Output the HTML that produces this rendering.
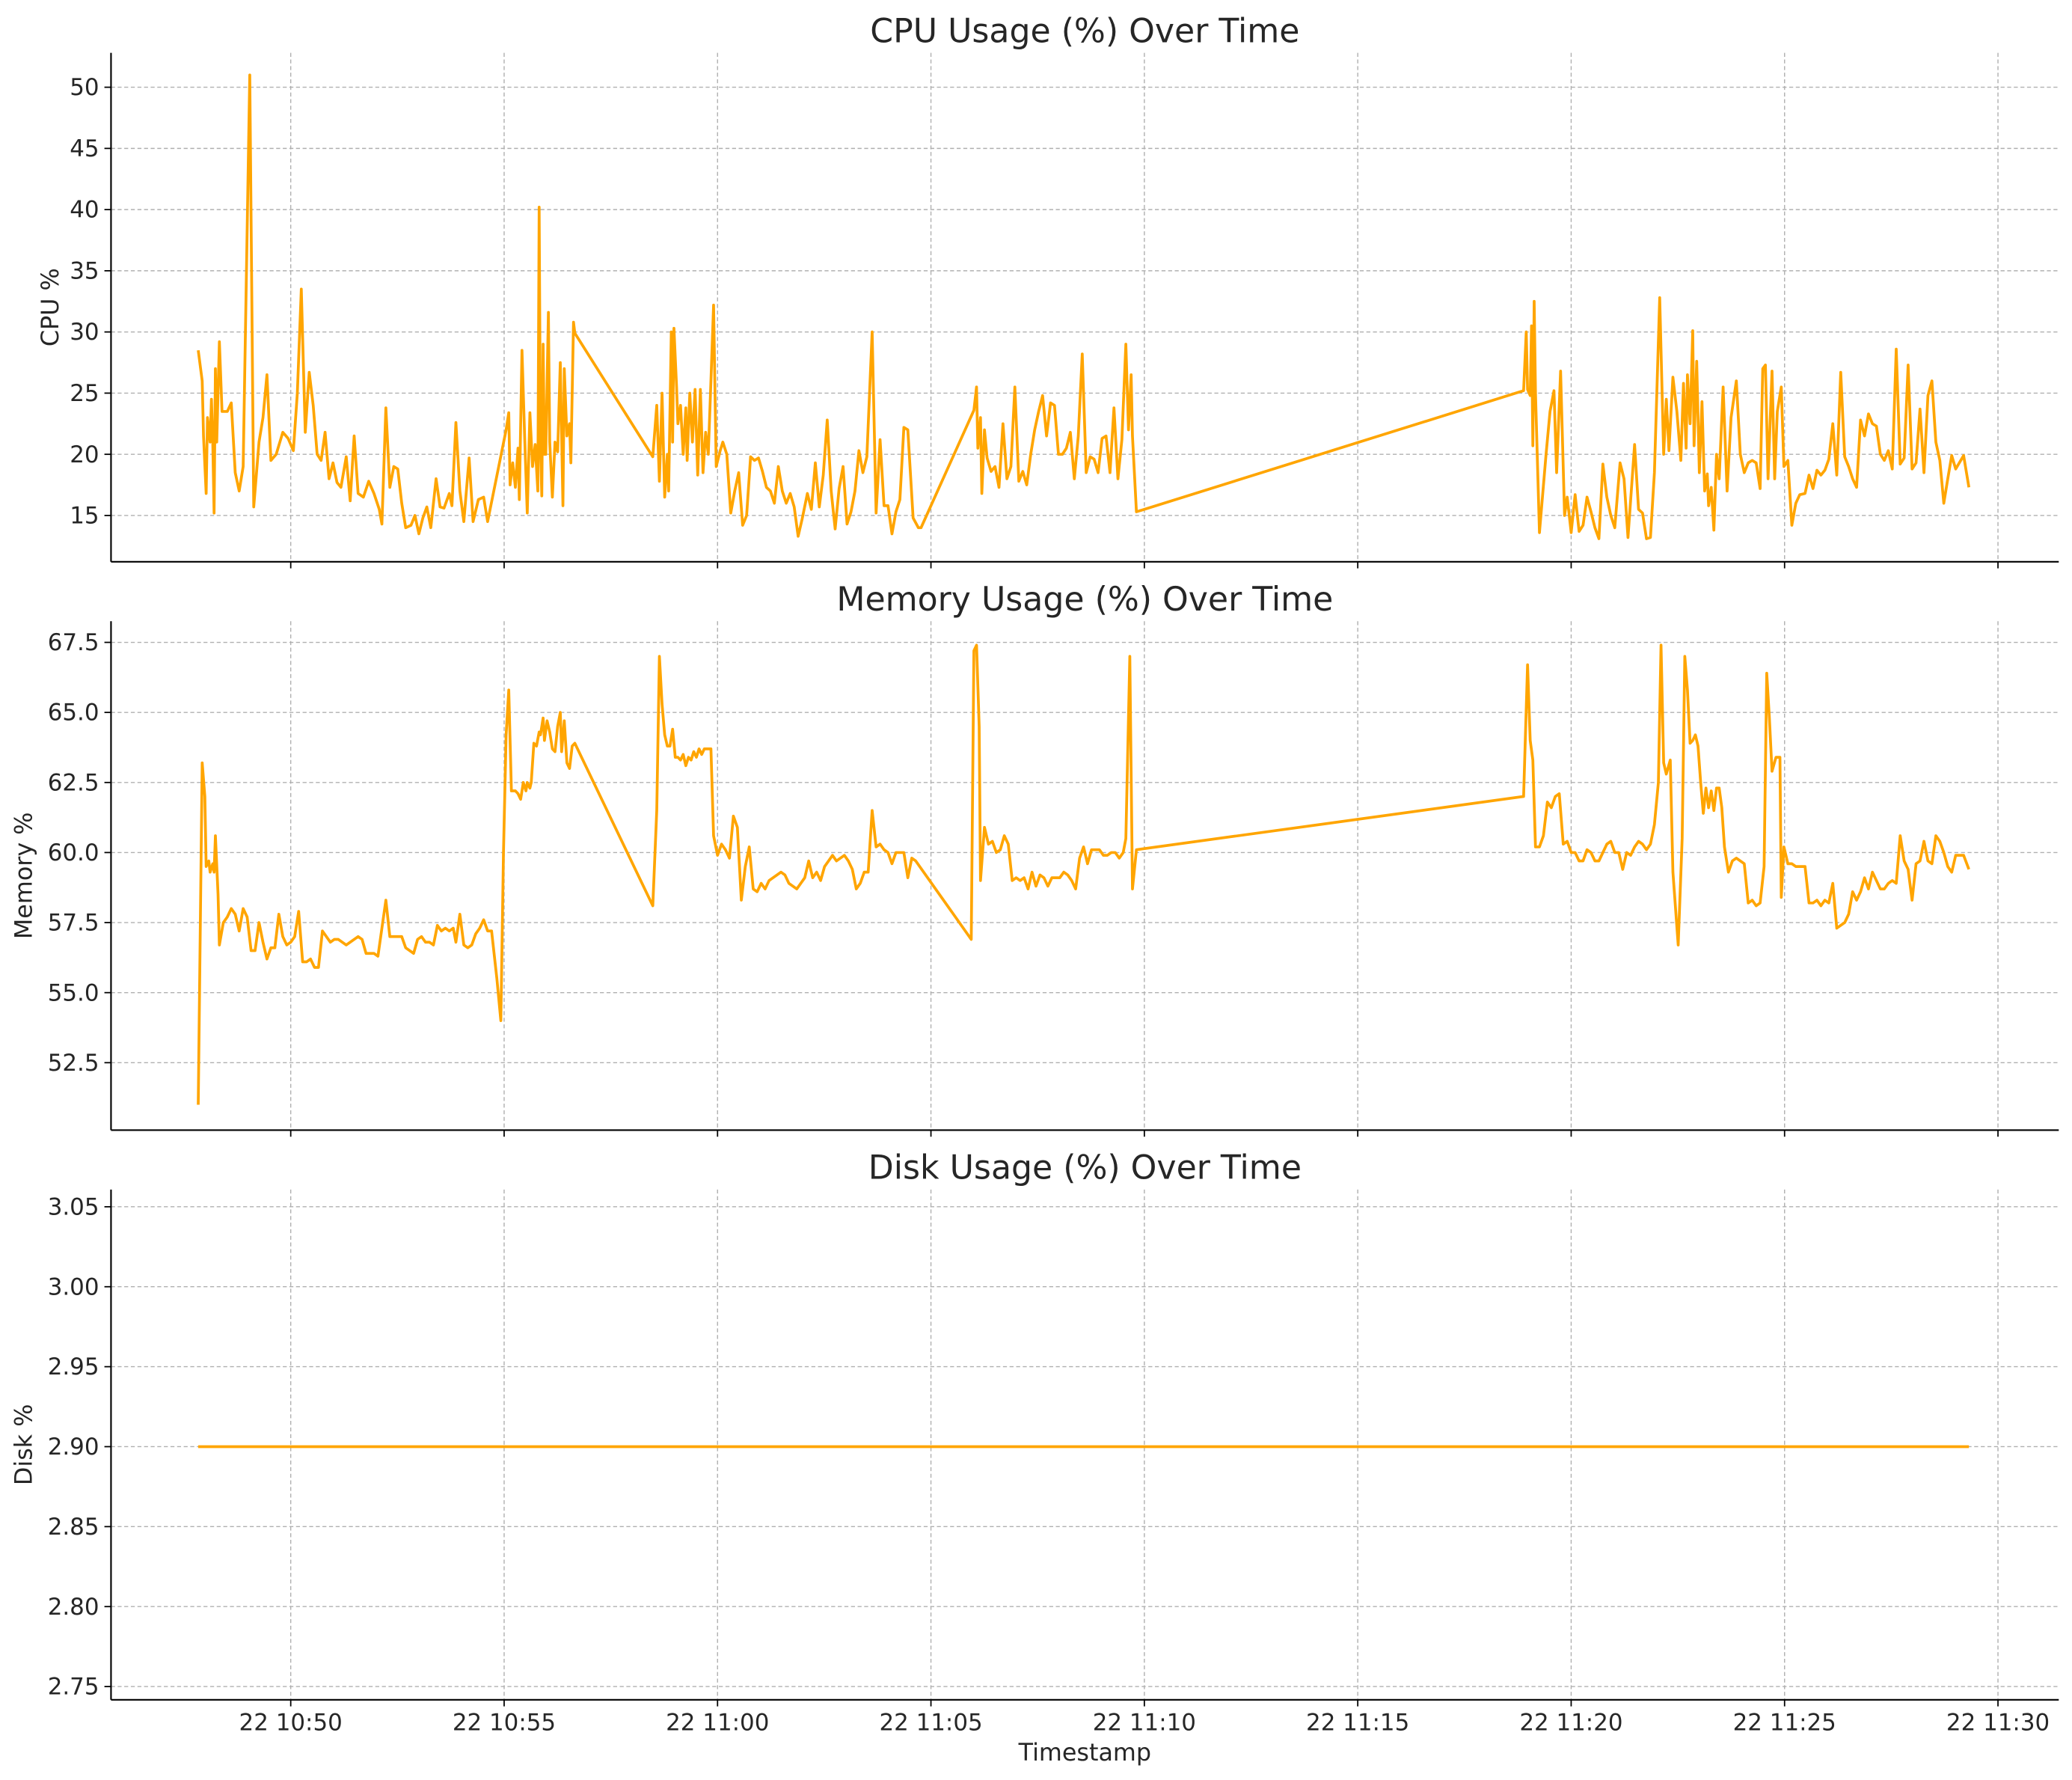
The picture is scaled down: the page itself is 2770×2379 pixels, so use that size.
<!DOCTYPE html>
<html><head><meta charset="utf-8"><style>
html,body{margin:0;padding:0;background:#fff;}
svg{display:block;font-family:"DejaVu Sans","Liberation Sans",sans-serif;}
</style></head><body>
<svg id="fig" width="2770" height="2379" viewBox="0 0 1568 1346.7" xmlns="http://www.w3.org/2000/svg"></svg>
<script>
// Sample times are in "sample clock" units: 32.3 units per minute, 220 = 10:50:00
const CLOCK_PER_MIN = 32.3, CLOCK_AT_1050 = 220;
const cpuTimes=[150,153,154,156,157,159,160,161,162,163,164,166,168,172,175,178,181,184,189,192,196,199,202,205,209,214,218,222,225,228,231,234,237,240,243,246,249,252,255,258,262,265,268,271,275,279,283,287,289,292,295,298,301,304,307,311,314,317,320,323,326,330,333,336,340,342,345,348,351,355,358,362,366,369,383,385,386,388,390,392,393,395,397,399,401,403,405,407,408,409,410,411,412,413,415,416,418,420,422,424,426,427,429,431,432,434,435,494,497,499,501,503,505,506,508,509,510,512,513,515,517,519,520,522,524,526,528,530,532,534,536,538,540,542,545,547,550,553,556,559,562,565,568,571,574,577,580,583,586,589,592,595,598,601,604,607,611,614,617,620,623,626,629,632,635,638,641,644,647,650,653,656,660,663,666,669,672,675,678,681,684,687,691,695,697,737,739,740,742,743,745,747,750,753,756,759,762,765,768,771,774,777,780,783,786,789,792,795,798,801,804,807,810,813,816,819,822,825,828,831,834,837,840,843,846,849,852,854,856,857,860,1153,1155,1156,1158,1159,1160,1161,1162,1165,1170,1173,1176,1178,1181,1184,1186,1189,1192,1195,1198,1201,1204,1207,1210,1213,1216,1219,1222,1226,1229,1232,1237,1240,1243,1246,1249,1252,1256,1259,1261,1263,1266,1269,1272,1274,1276,1277,1279,1281,1282,1284,1286,1288,1290,1292,1293,1295,1297,1299,1301,1304,1307,1310,1314,1317,1320,1323,1326,1329,1332,1334,1336,1338,1341,1343,1345,1348,1350,1353,1356,1359,1362,1366,1369,1372,1375,1378,1381,1384,1387,1390,1393,1396,1399,1402,1405,1408,1411,1414,1417,1420,1423,1426,1429,1432,1435,1438,1441,1444,1447,1450,1453,1456,1459,1462,1465,1468,1471,1474,1477,1480,1486,1490];
const cpuValues=[28.5,26,21.5,16.8,23,21,24.5,21,15.2,27,21,29.2,23.5,23.5,24.2,18.5,17,19,51,15.7,21,23,26.5,19.5,20,21.8,21.3,20.3,25,33.5,21.8,26.7,24,20,19.5,21.8,18,19.3,17.7,17.3,19.8,16.2,21.5,16.8,16.5,17.8,16.8,15.5,14.3,23.8,17.3,19,18.8,16,14,14.2,15,13.5,14.8,15.7,14,18,15.7,15.6,16.8,15.8,22.6,17,14.5,19.7,14.5,16.3,16.5,14.5,22,23.4,17.5,19.3,17.3,20.5,16.3,28.5,21.5,15.2,23.4,19,20.8,17,40.2,20.5,16.6,29,20,20,31.6,21,16.5,21,20.2,27.5,15.8,27,21.5,22.5,19.3,30.8,29.9,19.8,24,17.8,25,16.5,20,17,30,21,30.3,25.5,22.5,24,20,23.8,19.5,25,21,25.3,18.3,25.3,18.5,21.8,20,26,32.2,19,20.3,21,20,15.2,17,18.5,14.2,15,19.8,19.5,19.7,18.6,17.3,17,16,19,17,16,16.8,15.7,13.3,14.7,16.8,15.5,19.3,15.7,18.3,22.8,17,13.9,17.2,19,14.3,15.3,17,20.3,18.5,19.8,30,15.2,21.2,15.8,15.8,13.5,15.3,16.3,22.2,22,14.8,14,14,23.6,25.5,20.5,23,16.8,22,19.7,18.6,19,17.3,22.5,18,19,25.5,17.8,18.6,17.5,20,22,23.5,24.8,21.5,24.2,24,20,20,20.5,21.8,18,21.5,28.2,18.5,19.8,19.6,18.5,21.3,21.5,18.5,23.8,18,21.2,29,22,26.5,21.5,15.3,25.2,30,25.3,24.8,30.5,20.7,32.5,25,13.6,20,23.5,25.2,18.5,26.8,15,16.5,13.6,16.7,13.7,14.2,16.5,15.3,14,13.1,19.2,16.5,15,14,19.3,18,13.2,20.8,15.5,15.2,13.1,13.2,18.5,32.8,20,24.5,20.3,26.3,23.5,19.5,25.8,20.5,26.5,22.5,30.1,20.7,27.6,18.5,24.3,17,18.4,15.8,17.3,13.8,20,18,25.5,17,23,26,20,18.5,19.3,19.5,19.3,17.2,27,27.3,18,26.8,18,23.5,25.5,19,19.5,14.2,16,16.7,16.8,18.3,17.2,18.7,18.3,18.7,19.6,22.5,18.3,26.7,19.8,19,18,17.3,22.8,21.5,23.3,22.5,22.3,20,19.5,20.3,18.8,28.6,19.2,19.7,27.3,18.8,19.3,23.7,18.5,24.8,26,21,19.5,16,18,19.9,18.8,19.9,17.3];
const memTimes=[150,153,155,156,158,159,161,162,163,165,166,169,172,175,178,181,184,187,190,193,196,199,202,205,208,211,214,217,220,223,226,229,232,235,238,241,244,247,250,253,256,259,262,265,268,271,274,277,280,283,286,289,292,295,298,301,304,307,310,313,316,319,322,325,328,331,334,337,340,343,345,348,351,354,357,360,363,366,369,372,376,379,381,383,385,387,390,392,394,396,398,399,401,402,404,406,408,409,411,412,414,416,418,420,422,424,425,427,429,431,433,435,494,497,499,501,503,505,507,509,511,513,515,517,519,521,523,525,527,529,531,533,535,538,540,543,546,549,552,555,558,561,564,567,570,573,576,579,582,585,588,591,594,597,600,603,606,609,612,615,618,621,624,627,630,633,636,639,642,645,648,651,654,657,660,663,666,669,672,675,678,681,684,687,690,693,696,735,737,739,741,742,745,748,751,754,757,760,763,766,769,772,775,778,781,784,787,790,793,796,799,802,805,808,811,814,817,820,823,826,829,832,835,838,841,844,847,850,852,855,857,860,1153,1156,1158,1160,1162,1165,1168,1171,1174,1177,1180,1183,1186,1189,1192,1195,1198,1201,1204,1207,1210,1213,1216,1219,1222,1225,1228,1231,1234,1237,1240,1243,1246,1249,1252,1255,1257,1259,1261,1264,1266,1270,1273,1275,1277,1279,1281,1283,1285,1287,1289,1291,1293,1295,1297,1299,1301,1303,1305,1308,1311,1314,1317,1320,1323,1326,1329,1332,1335,1337,1339,1341,1344,1347,1348,1350,1353,1356,1359,1362,1366,1369,1372,1375,1378,1381,1384,1387,1390,1393,1396,1399,1402,1405,1408,1411,1414,1417,1420,1423,1426,1429,1432,1435,1438,1441,1444,1447,1450,1453,1456,1459,1462,1465,1468,1471,1474,1477,1480,1486,1490];
const memValues=[51,63.2,62,59.5,59.7,59.3,59.6,59.3,60.6,58.5,56.7,57.5,57.7,58,57.8,57.2,58,57.7,56.5,56.5,57.5,56.8,56.2,56.6,56.6,57.8,57,56.7,56.8,57,57.9,56.1,56.1,56.2,55.9,55.9,57.2,57,56.8,56.9,56.9,56.8,56.7,56.8,56.9,57,56.9,56.4,56.4,56.4,56.3,57.3,58.3,57,57,57,57,56.6,56.5,56.4,56.9,57,56.8,56.8,56.7,57.4,57.2,57.3,57.2,57.3,56.8,57.8,56.7,56.6,56.7,57.1,57.3,57.6,57.2,57.2,55.5,54,60,64.2,65.8,62.2,62.2,62.1,61.9,62.5,62.2,62.5,62.3,62.5,63.9,63.8,64.3,64.2,64.8,64,64.7,64.3,63.7,63.6,64.5,65,63.6,64.7,63.2,63,63.8,63.9,58.1,61.5,67,65.3,64.2,63.8,63.8,64.4,63.4,63.4,63.3,63.5,63.1,63.4,63.3,63.6,63.4,63.7,63.5,63.7,63.7,63.7,60.6,59.9,60.3,60.1,59.8,61.3,60.9,58.3,59.5,60.2,58.7,58.6,58.9,58.7,59,59.1,59.2,59.3,59.2,58.9,58.8,58.7,58.9,59.1,59.7,59.1,59.3,59,59.5,59.7,59.9,59.7,59.8,59.9,59.7,59.4,58.7,58.9,59.3,59.3,61.5,60.2,60.3,60.1,60,59.6,60,60,60,59.1,59.8,59.7,59.5,56.9,67.2,67.4,64.5,59,60.9,60.3,60.4,60,60.1,60.6,60.3,59,59.1,59,59.1,58.7,59.3,58.8,59.2,59.1,58.8,59.1,59.1,59.1,59.3,59.2,59,58.7,59.8,60.2,59.6,60.1,60.1,60.1,59.9,59.9,60,60,59.8,60,60.5,67,58.7,60.1,62,66.7,64,63.3,60.2,60.2,60.6,61.8,61.6,62,62.1,60.3,60.4,60,60,59.7,59.7,60.1,60,59.7,59.7,60,60.3,60.4,60,60,59.4,60,59.9,60.2,60.4,60.3,60.1,60.3,61,62.5,67.4,63.2,62.8,63.3,59.3,56.7,60.5,67,65.8,63.9,64,64.2,63.8,62.5,61.4,62.3,61.6,62.2,61.5,62.3,62.3,61.6,60.2,59.3,59.7,59.8,59.7,59.6,58.2,58.3,58.1,58.2,59.5,66.4,64.8,62.9,63.4,63.4,58.4,60.2,59.6,59.6,59.5,59.5,59.5,58.2,58.2,58.3,58.1,58.3,58.2,58.9,57.3,57.4,57.5,57.8,58.6,58.3,58.6,59.1,58.7,59.3,59,58.7,58.7,58.9,59,58.9,60.6,59.7,59.4,58.3,59.6,59.7,60.4,59.7,59.6,60.6,60.4,60,59.5,59.3,59.9,59.9,59.4];
const diskTimes=[150,1490];
const diskValues=[2.9,2.9];
const xTickLabels=["22 10:50","22 10:55","22 11:00","22 11:05","22 11:10","22 11:15","22 11:20","22 11:25","22 11:30"];
const xTickMinutes=[50,55,60,65,70,75,80,85,90];
const cpuTicks=[15,20,25,30,35,40,45,50];
const memTicks=[52.5,55,57.5,60,62.5,65,67.5];
const diskTicks=[2.75,2.80,2.85,2.90,2.95,3.00,3.05];

const NS="http://www.w3.org/2000/svg";
const svg=document.getElementById('fig');
function el(tag,attrs,parent){const e=document.createElementNS(NS,tag);for(const k in attrs)e.setAttribute(k,attrs[k]);(parent||svg).appendChild(e);return e;}
const L=84,R=1558;
function xMin(m){return 220+(m-50)*161.5/5;}
function xClock(c){return xMin(50+(c-CLOCK_AT_1050)/CLOCK_PER_MIN);}

function panel(cfg){
  const g=el('g',{});
  
  
  const y=v=>cfg.y0+(v-cfg.v0)*(cfg.y1-cfg.y0)/(cfg.v1-cfg.v0);
  xTickMinutes.forEach((m,i)=>{
    const gl=el('line',{x1:xMin(m),x2:xMin(m),y1:cfg.top,y2:cfg.bottom,stroke:'#b0b0b0','stroke-width':0.8,'stroke-dasharray':'3,2'},g);
    
    
    el('line',{x1:xMin(m),x2:xMin(m),y1:cfg.bottom,y2:cfg.bottom+5,stroke:'#000','stroke-width':1},g);
    if(cfg.xlabels){
      const t=el('text',{x:xMin(m),y:cfg.bottom+23,'text-anchor':'middle','font-size':17.5,fill:'#262626'},g);
      t.textContent=xTickLabels[i];
      
      
    }
  });
  cfg.ticks.forEach(v=>{
    const gl=el('line',{x1:L,x2:R,y1:y(v),y2:y(v),stroke:'#b0b0b0','stroke-width':0.8,'stroke-dasharray':'3,2'},g);
    
    
    el('line',{x1:L-5,x2:L,y1:y(v),y2:y(v),stroke:'#000','stroke-width':1},g);
    const t=el('text',{x:L-9,y:y(v)+6,'text-anchor':'end','font-size':17.5,fill:'#262626'},g);
    t.textContent=cfg.fmt(v);
    
    
  });
  el('line',{x1:L,x2:L,y1:cfg.top,y2:cfg.bottom,stroke:'#000','stroke-width':1.2},g);
  el('line',{x1:L,x2:R,y1:cfg.bottom,y2:cfg.bottom,stroke:'#000','stroke-width':1.2},g);
  const pts=cfg.times.map((c,i)=>xClock(c).toFixed(2)+','+y(cfg.values[i]).toFixed(2)).join(' ');
  const pl=el('polyline',{points:pts,fill:'none',stroke:'#FFA500','stroke-width':2.1,'stroke-linejoin':'round'},g);
  
  
  const tt=el('text',{x:(L+R)/2,y:cfg.top-8,'text-anchor':'middle','font-size':25,fill:'#262626'},g);
  tt.textContent=cfg.title;
  
  
  const cy=(cfg.top+cfg.bottom)/2;
  const yl=el('text',{x:0,y:0,transform:`translate(${cfg.labelX},${cy}) rotate(-90)`,'text-anchor':'middle','font-size':18,fill:'#262626'},g);
  yl.textContent=cfg.ylabel;
  
  
}
panel({name:'cpu',title:'CPU Usage (%) Over Time',ylabel:'CPU %',labelX:44,top:40,bottom:425,v0:15,y0:390,v1:50,y1:66,ticks:cpuTicks,fmt:v=>String(v),times:cpuTimes,values:cpuValues});
panel({name:'memory',title:'Memory Usage (%) Over Time',ylabel:'Memory %',labelX:24,top:470,bottom:855,v0:52.5,y0:804,v1:67.5,y1:486,ticks:memTicks,fmt:v=>v.toFixed(1),times:memTimes,values:memValues});
panel({name:'disk',title:'Disk Usage (%) Over Time',ylabel:'Disk %',labelX:24,top:900,bottom:1286,v0:2.75,y0:1276,v1:3.05,y1:913,ticks:diskTicks,fmt:v=>v.toFixed(2),times:diskTimes,values:diskValues,xlabels:true});
const xl=el('text',{x:(L+R)/2,y:1332,'text-anchor':'middle','font-size':18,fill:'#262626'});
xl.textContent='Timestamp';


</script>
</body></html>
